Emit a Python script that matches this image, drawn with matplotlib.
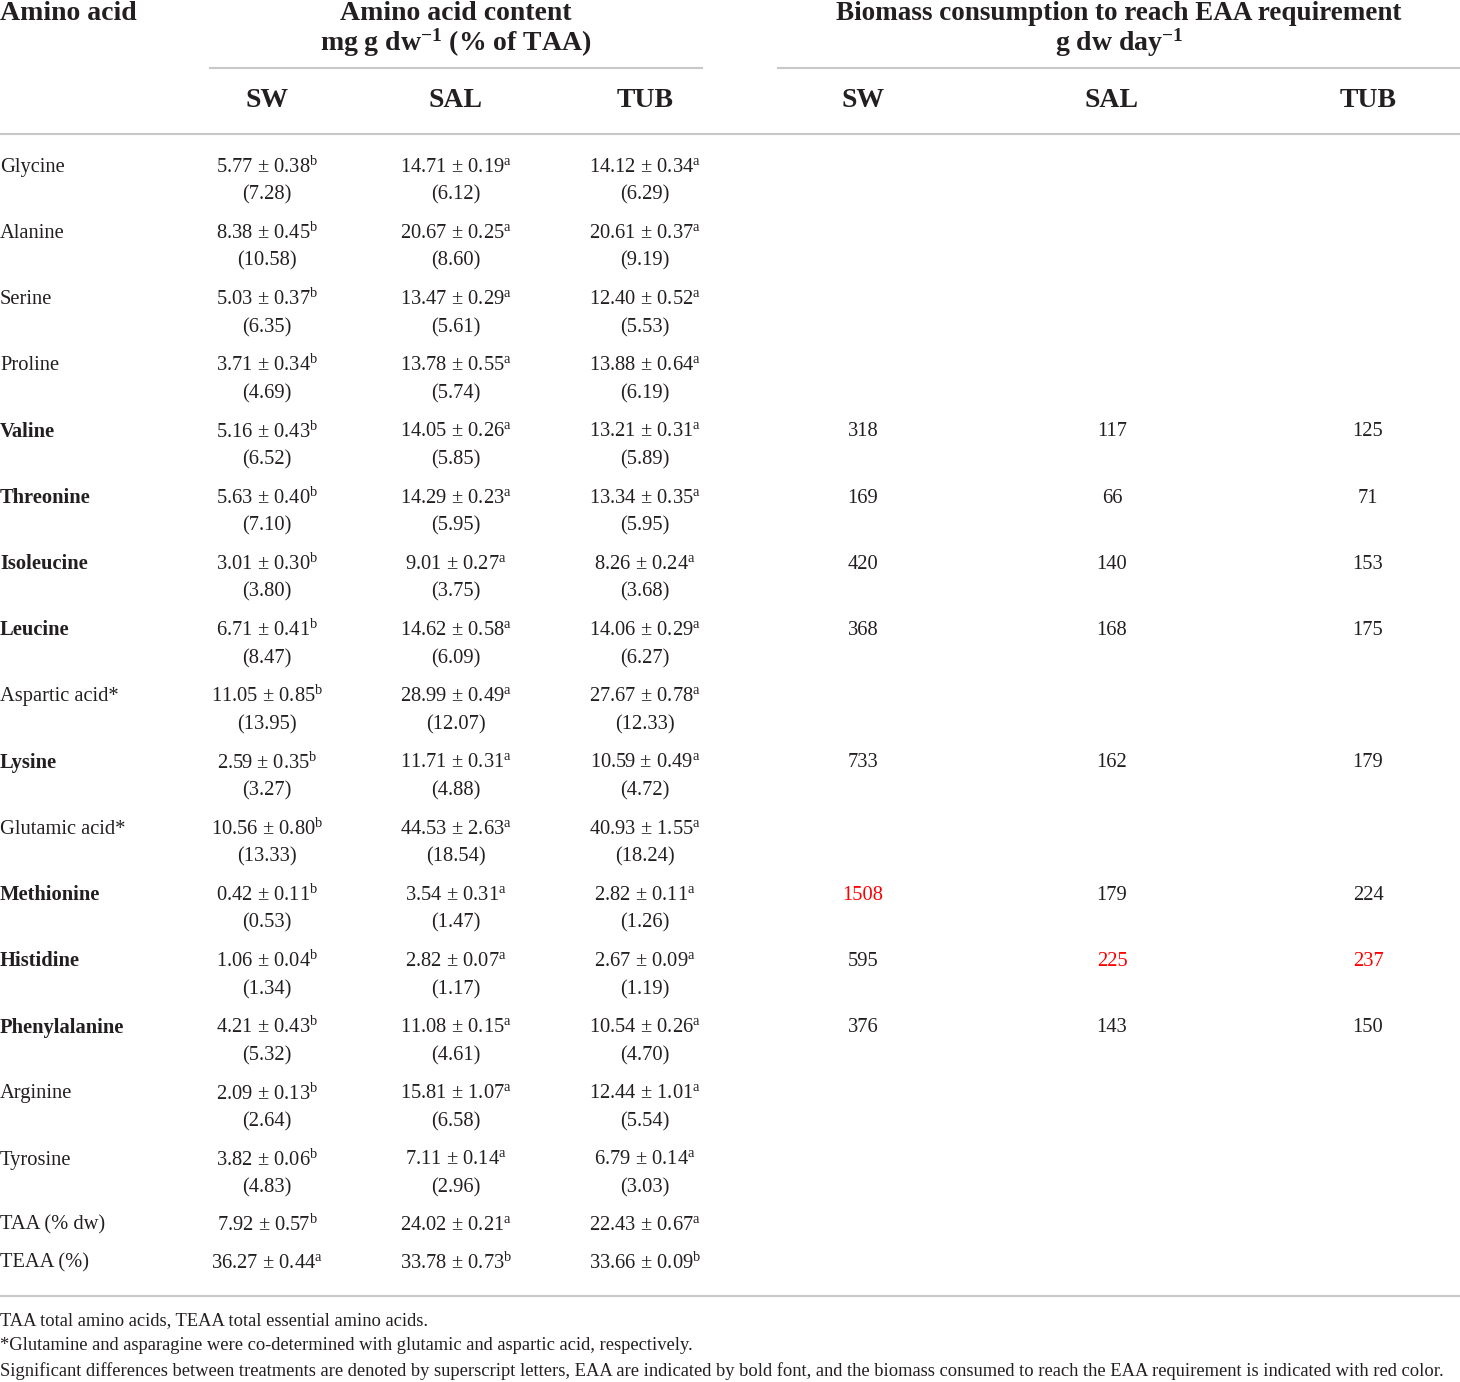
import numpy as np
import matplotlib
matplotlib.use("Agg")
import matplotlib.pyplot as plt

plt.rcParams["font.family"] = ["Liberation Serif", "DejaVu Serif"]
plt.rcParams["mathtext.fontset"] = "custom"
plt.rcParams["mathtext.rm"] = "Liberation Serif"
plt.rcParams["mathtext.it"] = "Liberation Serif:italic"
plt.rcParams["mathtext.bf"] = "Liberation Serif:bold"

INK = "#231f20"
RULE = "#c8c8c8"
RED = "#ff0000"

# --- data ----------------------------------------------------------------------
amino = ["Glycine", "Alanine", "Serine", "Proline", "Valine", "Threonine",
         "Isoleucine", "Leucine", "Aspartic acid*", "Lysine", "Glutamic acid*",
         "Methionine", "Histidine", "Phenylalanine", "Arginine", "Tyrosine"]
essential = [False, False, False, False, True, True, True, True, False, True,
             False, True, True, True, False, False]

sw_mean = [5.77, 8.38, 5.03, 3.71, 5.16, 5.63, 3.01, 6.71, 11.05, 2.59, 10.56, 0.42, 1.06, 4.21, 2.09, 3.82]
sw_sd = [0.38, 0.45, 0.37, 0.34, 0.43, 0.40, 0.30, 0.41, 0.85, 0.35, 0.80, 0.11, 0.04, 0.43, 0.13, 0.06]
sw_pct = [7.28, 10.58, 6.35, 4.69, 6.52, 7.10, 3.80, 8.47, 13.95, 3.27, 13.33, 0.53, 1.34, 5.32, 2.64, 4.83]
sw_sig = ["b"] * 16

sal_mean = [14.71, 20.67, 13.47, 13.78, 14.05, 14.29, 9.01, 14.62, 28.99, 11.71, 44.53, 3.54, 2.82, 11.08, 15.81, 7.11]
sal_sd = [0.19, 0.25, 0.29, 0.55, 0.26, 0.23, 0.27, 0.58, 0.49, 0.31, 2.63, 0.31, 0.07, 0.15, 1.07, 0.14]
sal_pct = [6.12, 8.60, 5.61, 5.74, 5.85, 5.95, 3.75, 6.09, 12.07, 4.88, 18.54, 1.47, 1.17, 4.61, 6.58, 2.96]
sal_sig = ["a"] * 16

tub_mean = [14.12, 20.61, 12.40, 13.88, 13.21, 13.34, 8.26, 14.06, 27.67, 10.59, 40.93, 2.82, 2.67, 10.54, 12.44, 6.79]
tub_sd = [0.34, 0.37, 0.52, 0.64, 0.31, 0.35, 0.24, 0.29, 0.78, 0.49, 1.55, 0.11, 0.09, 0.26, 1.01, 0.14]
tub_pct = [6.29, 9.19, 5.53, 6.19, 5.89, 5.95, 3.68, 6.27, 12.33, 4.72, 18.24, 1.26, 1.19, 4.70, 5.54, 3.03]
tub_sig = ["a"] * 16

# biomass consumption (g dw/day), only for EAA rows; None = blank cell
bio_sw = [None, None, None, None, 318, 169, 420, 368, None, 733, None, 1508, 595, 376, None, None]
bio_sal = [None, None, None, None, 117, 66, 140, 168, None, 162, None, 179, 225, 143, None, None]
bio_tub = [None, None, None, None, 125, 71, 153, 175, None, 179, None, 224, 237, 150, None, None]

tot_labels = ["TAA (% dw)", "TEAA (%)"]
tot_sw = [(7.92, 0.57, "b"), (36.27, 0.44, "a")]
tot_sal = [(24.02, 0.21, "a"), (33.78, 0.73, "b")]
tot_tub = [(22.43, 0.67, "a"), (33.66, 0.09, "b")]

groups = ["SW", "SAL", "TUB"]
footnotes = [
    "TAA total amino acids, TEAA total essential amino acids.",
    "*Glutamine and asparagine were co-determined with glutamic and aspartic acid, respectively.",
    "Significant differences between treatments are denoted by superscript letters, EAA are "
    "indicated by bold font, and the biomass consumed to reach the EAA requirement is indicated "
    "with red color.",
]

# --- layout (pixel coords) -----------------------------------------------------
W, H = 1460, 1382
fig = plt.figure(figsize=(W / 100, H / 100), dpi=100)
ax = fig.add_axes([0, 0, 1, 1])
ax.set_xlim(0, W)
ax.set_ylim(H, 0)
ax.axis("off")

x_content = [267, 456, 645]
x_bio = [863, 1112, 1368]
HDR = 20
BODY = 14.8
NOTE = 13.3


def sup(mean, sd, s):
    return f"{mean:.2f} ± {sd:.2f}$^{{\\mathrm{{{s}}}}}$"


# headers
ax.text(0, 13, "Amino acid", fontsize=HDR, fontweight="bold", color=INK, va="center", ha="left")
ax.text(456, 13, "Amino acid content", fontsize=HDR, fontweight="bold", color=INK, va="center", ha="center")
ax.text(456, 43, "mg g dw$^{\\mathbf{-1}}$ (% of TAA)", fontsize=HDR, fontweight="bold", color=INK,
        va="center", ha="center")
ax.text(1119, 13, "Biomass consumption to reach EAA requirement", fontsize=19.5, fontweight="bold",
        color=INK, va="center", ha="center")
ax.text(1119, 43, "g dw day$^{\\mathbf{-1}}$", fontsize=HDR, fontweight="bold", color=INK,
        va="center", ha="center")
ax.plot([210, 702], [68, 68], color=RULE, lw=1.5)
ax.plot([778, 1460], [68, 68], color=RULE, lw=1.5)
for x, g in zip(x_content, groups):
    ax.text(x, 100, g, fontsize=HDR, fontweight="bold", color=INK, va="center", ha="center")
for x, g in zip(x_bio, groups):
    ax.text(x, 100, g, fontsize=HDR, fontweight="bold", color=INK, va="center", ha="center")
ax.plot([0, W], [134, 134], color=RULE, lw=1.5)

# body
cols = [(sw_mean, sw_sd, sw_pct, sw_sig), (sal_mean, sal_sd, sal_pct, sal_sig),
        (tub_mean, tub_sd, tub_pct, tub_sig)]
bios = [bio_sw, bio_sal, bio_tub]
red_idx = [int(np.argmax([v if v is not None else -1 for v in b])) for b in bios]

y0, pitch = 167, 66.2
for i, name in enumerate(amino):
    y = y0 + i * pitch
    ax.text(0, y, name, fontsize=BODY, fontweight="bold" if essential[i] else "normal",
            color=INK, va="center", ha="left")
    for x, (m, sd, pct, sig) in zip(x_content, cols):
        ax.text(x, y, sup(m[i], sd[i], sig[i]), fontsize=BODY, color=INK, va="center", ha="center")
        ax.text(x, y + 28, f"({pct[i]:.2f})", fontsize=BODY, color=INK, va="center", ha="center")
    for x, b, r in zip(x_bio, bios, red_idx):
        if b[i] is not None:
            ax.text(x, y, str(b[i]), fontsize=BODY, color=RED if i == r else INK,
                    va="center", ha="center")

for j, lab in enumerate(tot_labels):
    y = 1225 + j * 38
    ax.text(0, y, lab, fontsize=BODY, color=INK, va="center", ha="left")
    for x, t in zip(x_content, (tot_sw, tot_sal, tot_tub)):
        m, sd, s = t[j]
        ax.text(x, y, sup(m, sd, s), fontsize=BODY, color=INK, va="center", ha="center")

ax.plot([0, W], [1296, 1296], color=RULE, lw=1.5)
for k, note in enumerate(footnotes):
    ax.text(0, 1321 + k * 25, note, fontsize=NOTE, color=INK, va="center", ha="left")

fig.savefig("out.png", dpi=100, facecolor="white")
